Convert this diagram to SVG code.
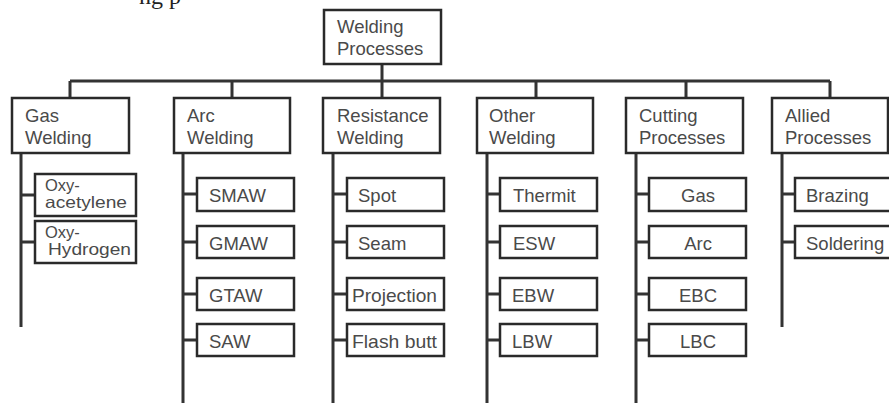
<svg xmlns="http://www.w3.org/2000/svg" width="889" height="403" viewBox="0 0 889 403">
<style>
.box{fill:#fff;stroke:#2a2a2a;stroke-width:2.5}
.ln{stroke:#333;stroke-width:3;fill:none}
text{font-family:"Liberation Sans",Arial,sans-serif;font-size:18.5px;fill:#4a4a4a}
.c{text-anchor:middle}
.sm{font-size:16.5px}
.cap{font-family:"Liberation Serif","Times New Roman",serif;font-size:24px;fill:#222}
</style>
<rect width="889" height="403" fill="#fff"/>
<text class="cap" x="139" y="4">ng p</text>
<g id="connectors">
<path class="ln" d="M382 64V81M70 81H830M70 81V98M232 81V98M382 81V98M536 81V98M686 81V98M830 81V98"/>
<path class="ln" d="M21 153V327M21 195H35M21 242H35"/>
<path class="ln" d="M183 153V403M183 194H197M183 242H197M183 294H197M183 340H197"/>
<path class="ln" d="M333 153V403M333 194H347M333 242H347M333 294H347M333 340H347"/>
<path class="ln" d="M487 153V403M487 194H500M487 242H500M487 294H500M487 340H500"/>
<path class="ln" d="M636 153V403M636 194H649M636 242H649M636 294H649M636 340H649"/>
<path class="ln" d="M782 153V327M782 194H795M782 242H795"/>
</g>
<g id="root"><rect class="box" x="324" y="10" width="117" height="54"/><text x="337" y="33">Welding</text><text x="337" y="55">Processes</text></g>
<g id="gas"><rect class="box" x="12" y="98" width="117" height="55"/><text x="25" y="122">Gas</text><text x="25" y="144">Welding</text></g>
<g id="arc"><rect class="box" x="174" y="98" width="116" height="55"/><text x="187" y="122">Arc</text><text x="187" y="144">Welding</text></g>
<g id="resistance"><rect class="box" x="323" y="98" width="117" height="55"/><text x="337" y="122">Resistance</text><text x="337" y="144">Welding</text></g>
<g id="other"><rect class="box" x="477" y="98" width="116" height="55"/><text x="489" y="122">Other</text><text x="489" y="144">Welding</text></g>
<g id="cutting"><rect class="box" x="626" y="98" width="117" height="55"/><text x="639" y="122">Cutting</text><text x="639" y="144">Processes</text></g>
<g id="allied"><rect class="box" x="772" y="98" width="116" height="55"/><text x="785" y="122">Allied</text><text x="785" y="144">Processes</text></g>
<g id="oxyacetylene"><rect class="box" x="35" y="174" width="101" height="42"/><text class="sm" x="45" y="191">Oxy-</text><text class="sm" x="45" y="208" textLength="82" lengthAdjust="spacingAndGlyphs">acetylene</text></g>
<g id="oxyhydrogen"><rect class="box" x="35" y="221" width="101" height="42"/><text class="sm" x="45" y="238">Oxy-</text><text class="sm" x="48" y="255" textLength="83" lengthAdjust="spacingAndGlyphs">Hydrogen</text></g>
<g id="smaw"><rect class="box" x="197" y="178" width="97" height="33"/><text x="209" y="202">SMAW</text></g>
<g id="gmaw"><rect class="box" x="197" y="226" width="97" height="32"/><text x="209" y="250">GMAW</text></g>
<g id="gtaw"><rect class="box" x="197" y="278" width="97" height="32"/><text x="209" y="302">GTAW</text></g>
<g id="saw"><rect class="box" x="197" y="324" width="97" height="32"/><text x="209" y="348">SAW</text></g>
<g id="spot"><rect class="box" x="347" y="178" width="97" height="33"/><text x="358" y="202">Spot</text></g>
<g id="seam"><rect class="box" x="347" y="226" width="97" height="32"/><text x="358" y="250">Seam</text></g>
<g id="projection"><rect class="box" x="347" y="278" width="97" height="32"/><text x="352" y="302" textLength="85" lengthAdjust="spacingAndGlyphs">Projection</text></g>
<g id="flashbutt"><rect class="box" x="347" y="324" width="97" height="32"/><text x="352" y="348" textLength="85" lengthAdjust="spacingAndGlyphs">Flash butt</text></g>
<g id="thermit"><rect class="box" x="500" y="178" width="97" height="33"/><text x="513" y="202">Thermit</text></g>
<g id="esw"><rect class="box" x="500" y="226" width="97" height="32"/><text x="513" y="250">ESW</text></g>
<g id="ebw"><rect class="box" x="500" y="278" width="97" height="32"/><text x="512" y="302">EBW</text></g>
<g id="lbw"><rect class="box" x="500" y="324" width="97" height="32"/><text x="512" y="348">LBW</text></g>
<g id="cgas"><rect class="box" x="649" y="178" width="97" height="33"/><text class="c" x="698" y="202">Gas</text></g>
<g id="carc"><rect class="box" x="649" y="226" width="97" height="32"/><text class="c" x="698" y="250">Arc</text></g>
<g id="ebc"><rect class="box" x="649" y="278" width="97" height="32"/><text class="c" x="698" y="302">EBC</text></g>
<g id="lbc"><rect class="box" x="649" y="324" width="97" height="32"/><text class="c" x="698" y="348">LBC</text></g>
<g id="brazing"><rect class="box" x="795" y="178" width="110" height="33"/><text x="806" y="202">Brazing</text></g>
<g id="soldering"><rect class="box" x="795" y="226" width="110" height="32"/><text x="806" y="250">Soldering</text></g>
</svg>
